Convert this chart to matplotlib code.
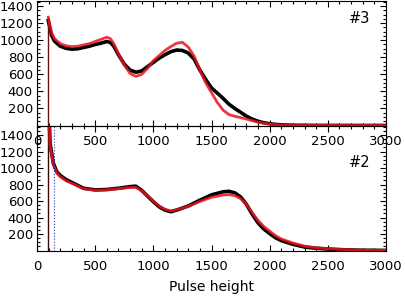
import matplotlib
matplotlib.use("Agg")
import matplotlib.pyplot as plt
from matplotlib.ticker import MultipleLocator

# ---- data ----
edge = 95  # histogram starts here (jump from zero)
top_x = [97, 110, 125, 150, 200, 250, 300, 350, 400, 450, 500, 550, 600, 630, 660,
         700, 750, 800, 850, 900, 950, 1000, 1050, 1100, 1150, 1200, 1250, 1300, 1350,
         1400, 1450, 1500, 1550, 1600, 1650, 1700, 1750, 1800, 1850, 1900, 1950, 2000,
         2050, 2100, 2200, 2400, 3000]
top_black = [1230, 1150, 1060, 990, 930, 905, 895, 900, 915, 930, 950, 965, 985, 975, 930,
             830, 720, 650, 625, 640, 690, 740, 790, 830, 865, 885, 880, 850, 780,
             650, 540, 440, 380, 318, 250, 200, 155, 110, 75, 50, 32, 21,
             13, 8, 3, 1, 0]
top_red = [1270, 1180, 1090, 1020, 960, 935, 925, 930, 945, 960, 985, 1010, 1035, 1020, 960,
           840, 710, 610, 575, 600, 670, 760, 820, 880, 925, 965, 975, 920, 815,
           650, 500, 385, 270, 180, 128, 108, 93, 75, 57, 38, 27, 17,
           11, 7, 3, 1, 0]

bot_x = [96, 112, 140, 170, 200, 250, 300, 400, 500, 600, 700, 800, 850, 900, 950,
         1000, 1050, 1100, 1150, 1200, 1300, 1400, 1500, 1600, 1650, 1700, 1750, 1800,
         1850, 1900, 1950, 2000, 2050, 2100, 2200, 2300, 2400, 2500, 2600, 2700, 2800, 3000]
bot_black = [2000, 1300, 1060, 955, 910, 860, 825, 755, 735, 740, 755, 775, 780, 730, 660,
             592, 530, 490, 470, 490, 540, 610, 675, 712, 718, 700, 650, 560,
             440, 335, 260, 205, 155, 120, 75, 42, 27, 18, 11, 6, 3, 1]
bot_red = [2000, 1280, 1040, 940, 895, 845, 815, 750, 730, 735, 750, 765, 765, 725, 665,
           600, 540, 500, 480, 495, 535, 595, 645, 672, 678, 665, 630, 560,
           460, 365, 290, 235, 180, 140, 90, 52, 33, 22, 14, 8, 4, 1]

threshold = 150
yticks = [200, 400, 600, 800, 1000, 1200, 1400]
xticks = [0, 500, 1000, 1500, 2000, 2500, 3000]
panel_labels = ["#3", "#2"]

plt.rcParams['font.family'] = ['DejaVu Sans']
fig = plt.figure(figsize=(4.05, 2.97), dpi=100)
ax_top = fig.add_axes([37/405, 1-125.5/297, 349/405, 124.5/297])
ax_bot = fig.add_axes([37/405, 1-250.5/297, 349/405, 124.5/297])
ax_top.set_zorder(2)
ax_top.patch.set_alpha(0)

def style(ax, ymax):
    ax.set_xlim(0, 3000)
    ax.set_ylim(0, ymax)
    ax.set_xticks(xticks)
    ax.set_yticks(yticks)
    ax.xaxis.set_minor_locator(MultipleLocator(100))
    ax.yaxis.set_minor_locator(MultipleLocator(50))
    ax.tick_params(which='both', direction='in', top=True, right=True,
                   labelsize=9.5, width=0.8, colors='black')
    ax.tick_params(which='major', length=4)
    ax.tick_params(which='minor', length=2.2)
    ax.tick_params(axis='x', pad=7)
    ax.tick_params(axis='y', pad=3)
    for s in ax.spines.values():
        s.set_linewidth(0.8)

ax_top.vlines(edge, 0, top_red[0], color='#6a1010', lw=1.0, zorder=3)
ax_top.plot(top_x, top_black, color='black', lw=2.6, zorder=2)
ax_top.plot(top_x, top_red, color='#e8141e', lw=2.0, alpha=0.85, zorder=3)
style(ax_top, 1460)
ax_top.text(0.955, 0.86, panel_labels[0], transform=ax_top.transAxes,
            ha='right', va='center', fontsize=10.5)

ax_bot.vlines(edge, 0, bot_black[0], color='#3a0a0a', lw=1.0, zorder=3)
ax_bot.plot(bot_x, bot_black, color='black', lw=2.6, zorder=2)
ax_bot.plot(bot_x, bot_red, color='#e8141e', lw=2.0, alpha=0.85, zorder=3)
ax_bot.axvline(threshold, color='#3030c0', lw=0.8, ls=':', zorder=4)
style(ax_bot, 1510)
ax_bot.text(0.955, 0.71, panel_labels[1], transform=ax_bot.transAxes,
            ha='right', va='center', fontsize=10.5)
ax_bot.set_xlabel("Pulse height", fontsize=10, labelpad=5)

fig.savefig("out.png", dpi=100)
